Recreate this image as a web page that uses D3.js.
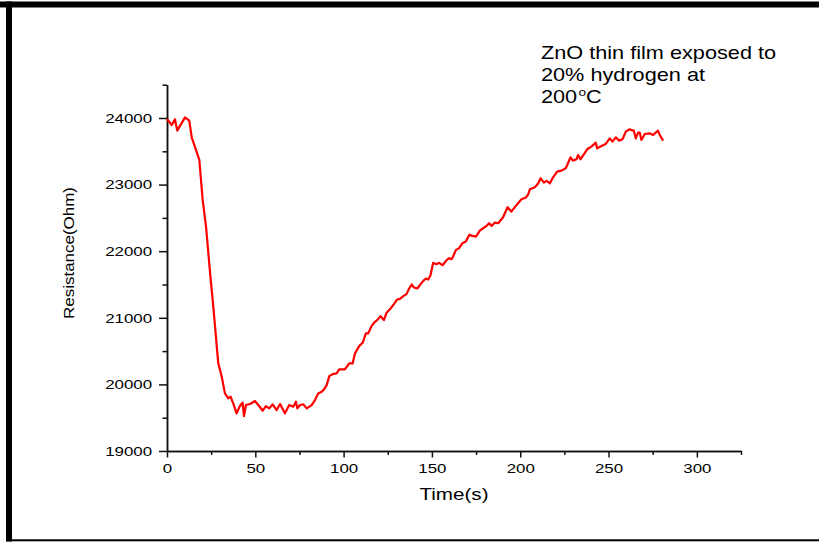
<!DOCTYPE html>
<html>
<head>
<meta charset="utf-8">
<script src="https://cdn.jsdelivr.net/npm/d3@7"></script>
<style>
  html, body { margin: 0; padding: 0; background: #fff; }
  svg { display: block; }
  text { font-family: "Liberation Sans", Arial, sans-serif; fill: #000; }
</style>
</head>
<body>
<svg id="chart" width="819" height="542"></svg>
<script>
// Sensor response: ZnO film resistance during hydrogen exposure
const time = [0, 2.7, 4.5, 5.8, 10.2, 12.6, 14, 16.4, 18.3, 20.2, 22.1, 24.3, 26.2, 27.2, 29, 31, 32.8, 34.7, 36, 37.5,
  39.4, 41.3, 42.8, 43.6, 44.7, 47, 49.8, 51.7, 54.2, 56, 57.9, 59.8, 62.1, 64, 66.8, 69.2, 71.5, 73, 73.8, 75.3,
  77.2, 79.1, 81.9, 83.8, 85.6, 87.6, 88.9, 90.4, 91.9, 93.8, 96, 97.5,
  100.7, 103.2, 105.1, 106.4, 108.8, 110.8, 112.6, 113.9, 115.8, 117.7, 119, 120.9, 122.8, 124.3, 126.6, 128.5,
  130.3, 131.9, 133.8, 135.6, 137.1, 138.5, 139.8, 141.7, 143.6, 145.1, 146.6, 147.9, 149.2, 150.7, 152.6, 154.1,
  156, 158.3, 159.8, 161.1, 162, 163.6, 165.4, 167.3, 169.2, 171.1, 173, 174.9, 175.6, 177.1, 179, 180.9, 182.4,
  183.8, 185.6, 187.5, 190.3, 192.8, 195, 197.5, 200.7, 203.2, 204.5, 205.5, 208.3, 210.2, 211.5, 213.4, 214.9,
  216.8, 218.6, 220.9, 223.4, 225.8, 228.5, 229.9, 231.8, 232.8, 234.1, 236, 237.9, 240.3, 242.8, 243.5, 246,
  248.4, 250.7, 252.2, 254.1, 256, 257.9, 259.8, 261.7, 264.3, 265.4, 266.7, 267.7, 268.6, 270.5, 273.3, 275.2,
  278, 279, 280.9];

const resistance = [23985, 23895, 23980, 23810, 24010, 23960, 23710, 23520, 23370, 22770, 22370, 21700, 21170, 20870,
  20320, 20115, 19865, 19790, 19815, 19715, 19565, 19675, 19725, 19525, 19690, 19705, 19750, 19690, 19605, 19675,
  19640, 19700, 19615, 19705, 19565, 19690, 19665, 19740, 19640, 19690, 19700, 19640, 19690, 19765, 19865, 19890,
  19925, 19990, 20125, 20155, 20165, 20225,
  20225, 20315, 20315, 20465, 20575, 20625, 20765, 20765, 20875, 20940, 20965, 21025, 20965, 21075, 21140, 21205,
  21275, 21285, 21325, 21355, 21440, 21500, 21455, 21440, 21505, 21555, 21590, 21575, 21640, 21825, 21805, 21825,
  21790, 21865, 21895, 21880, 21920, 22020, 22045, 22120, 22145, 22245, 22230, 22220, 22245, 22310, 22345, 22380,
  22420, 22380, 22430, 22420, 22510, 22660, 22595, 22680, 22780, 22805, 22855, 22930, 22960, 23020, 23095, 23030,
  23055, 23020, 23110, 23195, 23210, 23245, 23410, 23360, 23380, 23445, 23380, 23455, 23530, 23570, 23630, 23545,
  23580, 23610, 23695, 23645, 23710, 23660, 23680, 23795, 23830, 23810, 23695, 23780, 23780, 23670, 23760, 23770,
  23745, 23810, 23745, 23660];

const xMajorTicks = [0, 50, 100, 150, 200, 250, 300];
const xMinorTicks = [25, 75, 125, 175, 225, 275, 325];
const yMajorTicks = [19000, 20000, 21000, 22000, 23000, 24000];
const yMinorTicks = [19500, 20500, 21500, 22500, 23500, 24500];
const xDomain = [0, 325];
const yDomain = [19000, 24500];
const annotationLines = ["ZnO thin film exposed to", "20% hydrogen at"];

const svg = d3.select("#chart");
const SX = 1.25; // glyphs are drawn wider than tall

// page frame
svg.append("rect").attr("x", 0).attr("y", 0).attr("width", 819).attr("height", 542).attr("fill", "#fff");
svg.append("rect").attr("x", 0).attr("y", 1.5).attr("width", 819).attr("height", 6).attr("fill", "#000");
svg.append("rect").attr("x", 6).attr("y", 1.5).attr("width", 6).attr("height", 540).attr("fill", "#000");
svg.append("rect").attr("x", 6).attr("y", 539.3).attr("width", 813).attr("height", 2).attr("fill", "#000");

const x = d3.scaleLinear().domain(xDomain).range([167, 741]);
const y = d3.scaleLinear().domain(yDomain).range([451, 84.7]);

function stretch(sel, sx) {
  sel.each(function () {
    const t = d3.select(this);
    const ax = +t.attr("x") || 0;
    t.attr("transform", `translate(${ax},0) scale(${sx},1) translate(${-ax},0)`);
  });
}

function styleAxis(g) {
  g.select(".domain").attr("stroke", "#111").attr("stroke-width", 1.5);
  g.selectAll(".tick line").attr("stroke", "#111").attr("stroke-width", 1.5);
}

// x axis
const gxMinor = svg.append("g").attr("transform", "translate(0,451)")
  .call(d3.axisBottom(x).tickValues(xMinorTicks).tickSize(4).tickSizeOuter(0).tickFormat(""));
styleAxis(gxMinor);
const gx = svg.append("g").attr("transform", "translate(0,451)")
  .call(d3.axisBottom(x).tickValues(xMajorTicks).tickSize(6.5).tickSizeOuter(0).tickPadding(6));
styleAxis(gx);
gx.selectAll(".tick text").attr("font-size", 13.5).attr("font-family", "Liberation Sans, Arial, sans-serif")
  .attr("fill", "#000");
stretch(gx.selectAll(".tick text"), SX);

// y axis
const gyMinor = svg.append("g").attr("transform", "translate(167,0)")
  .call(d3.axisLeft(y).tickValues(yMinorTicks).tickSize(4.5).tickSizeOuter(0).tickFormat(""));
styleAxis(gyMinor);
const gy = svg.append("g").attr("transform", "translate(167,0)")
  .call(d3.axisLeft(y).tickValues(yMajorTicks).tickSize(8).tickSizeOuter(0).tickPadding(7).tickFormat(d3.format("d")));
styleAxis(gy);
gy.selectAll(".tick text").attr("font-size", 13.5).attr("font-family", "Liberation Sans, Arial, sans-serif")
  .attr("fill", "#000");
stretch(gy.selectAll(".tick text"), SX);

// axis titles
const xt = svg.append("text").attr("x", 454).attr("y", 500).attr("text-anchor", "middle")
  .attr("font-size", 16.5).text("Time(s)");
stretch(xt, SX);

svg.append("text")
  .attr("transform", "translate(74,253) rotate(-90)")
  .attr("text-anchor", "middle")
  .attr("font-size", 15)
  .attr("textLength", 132)
  .attr("lengthAdjust", "spacingAndGlyphs")
  .text("Resistance(Ohm)");

// annotation
const ann = svg.append("g");
annotationLines.forEach((s, i) => {
  ann.append("text").attr("x", 541).attr("y", 59.3 + i * 21.7).attr("font-size", 17.5).text(s);
});
const deg = ann.append("text").attr("x", 541).attr("y", 102.7).attr("font-size", 17.5);
deg.append("tspan").text("200");
deg.append("tspan").attr("dx", 1).attr("dy", -7).attr("font-size", 11).text("o");
deg.append("tspan").attr("dy", 7).text("C");
stretch(ann.selectAll("text"), 1.24);

// response curve
const pts = time.map((t, i) => [t, resistance[i]]);
svg.append("path")
  .datum(pts)
  .attr("fill", "none")
  .attr("stroke", "#ff0000")
  .attr("stroke-width", 2.2)
  .attr("stroke-linejoin", "round")
  .attr("d", d3.line().x(d => x(d[0])).y(d => y(d[1])));
</script>
</body>
</html>
